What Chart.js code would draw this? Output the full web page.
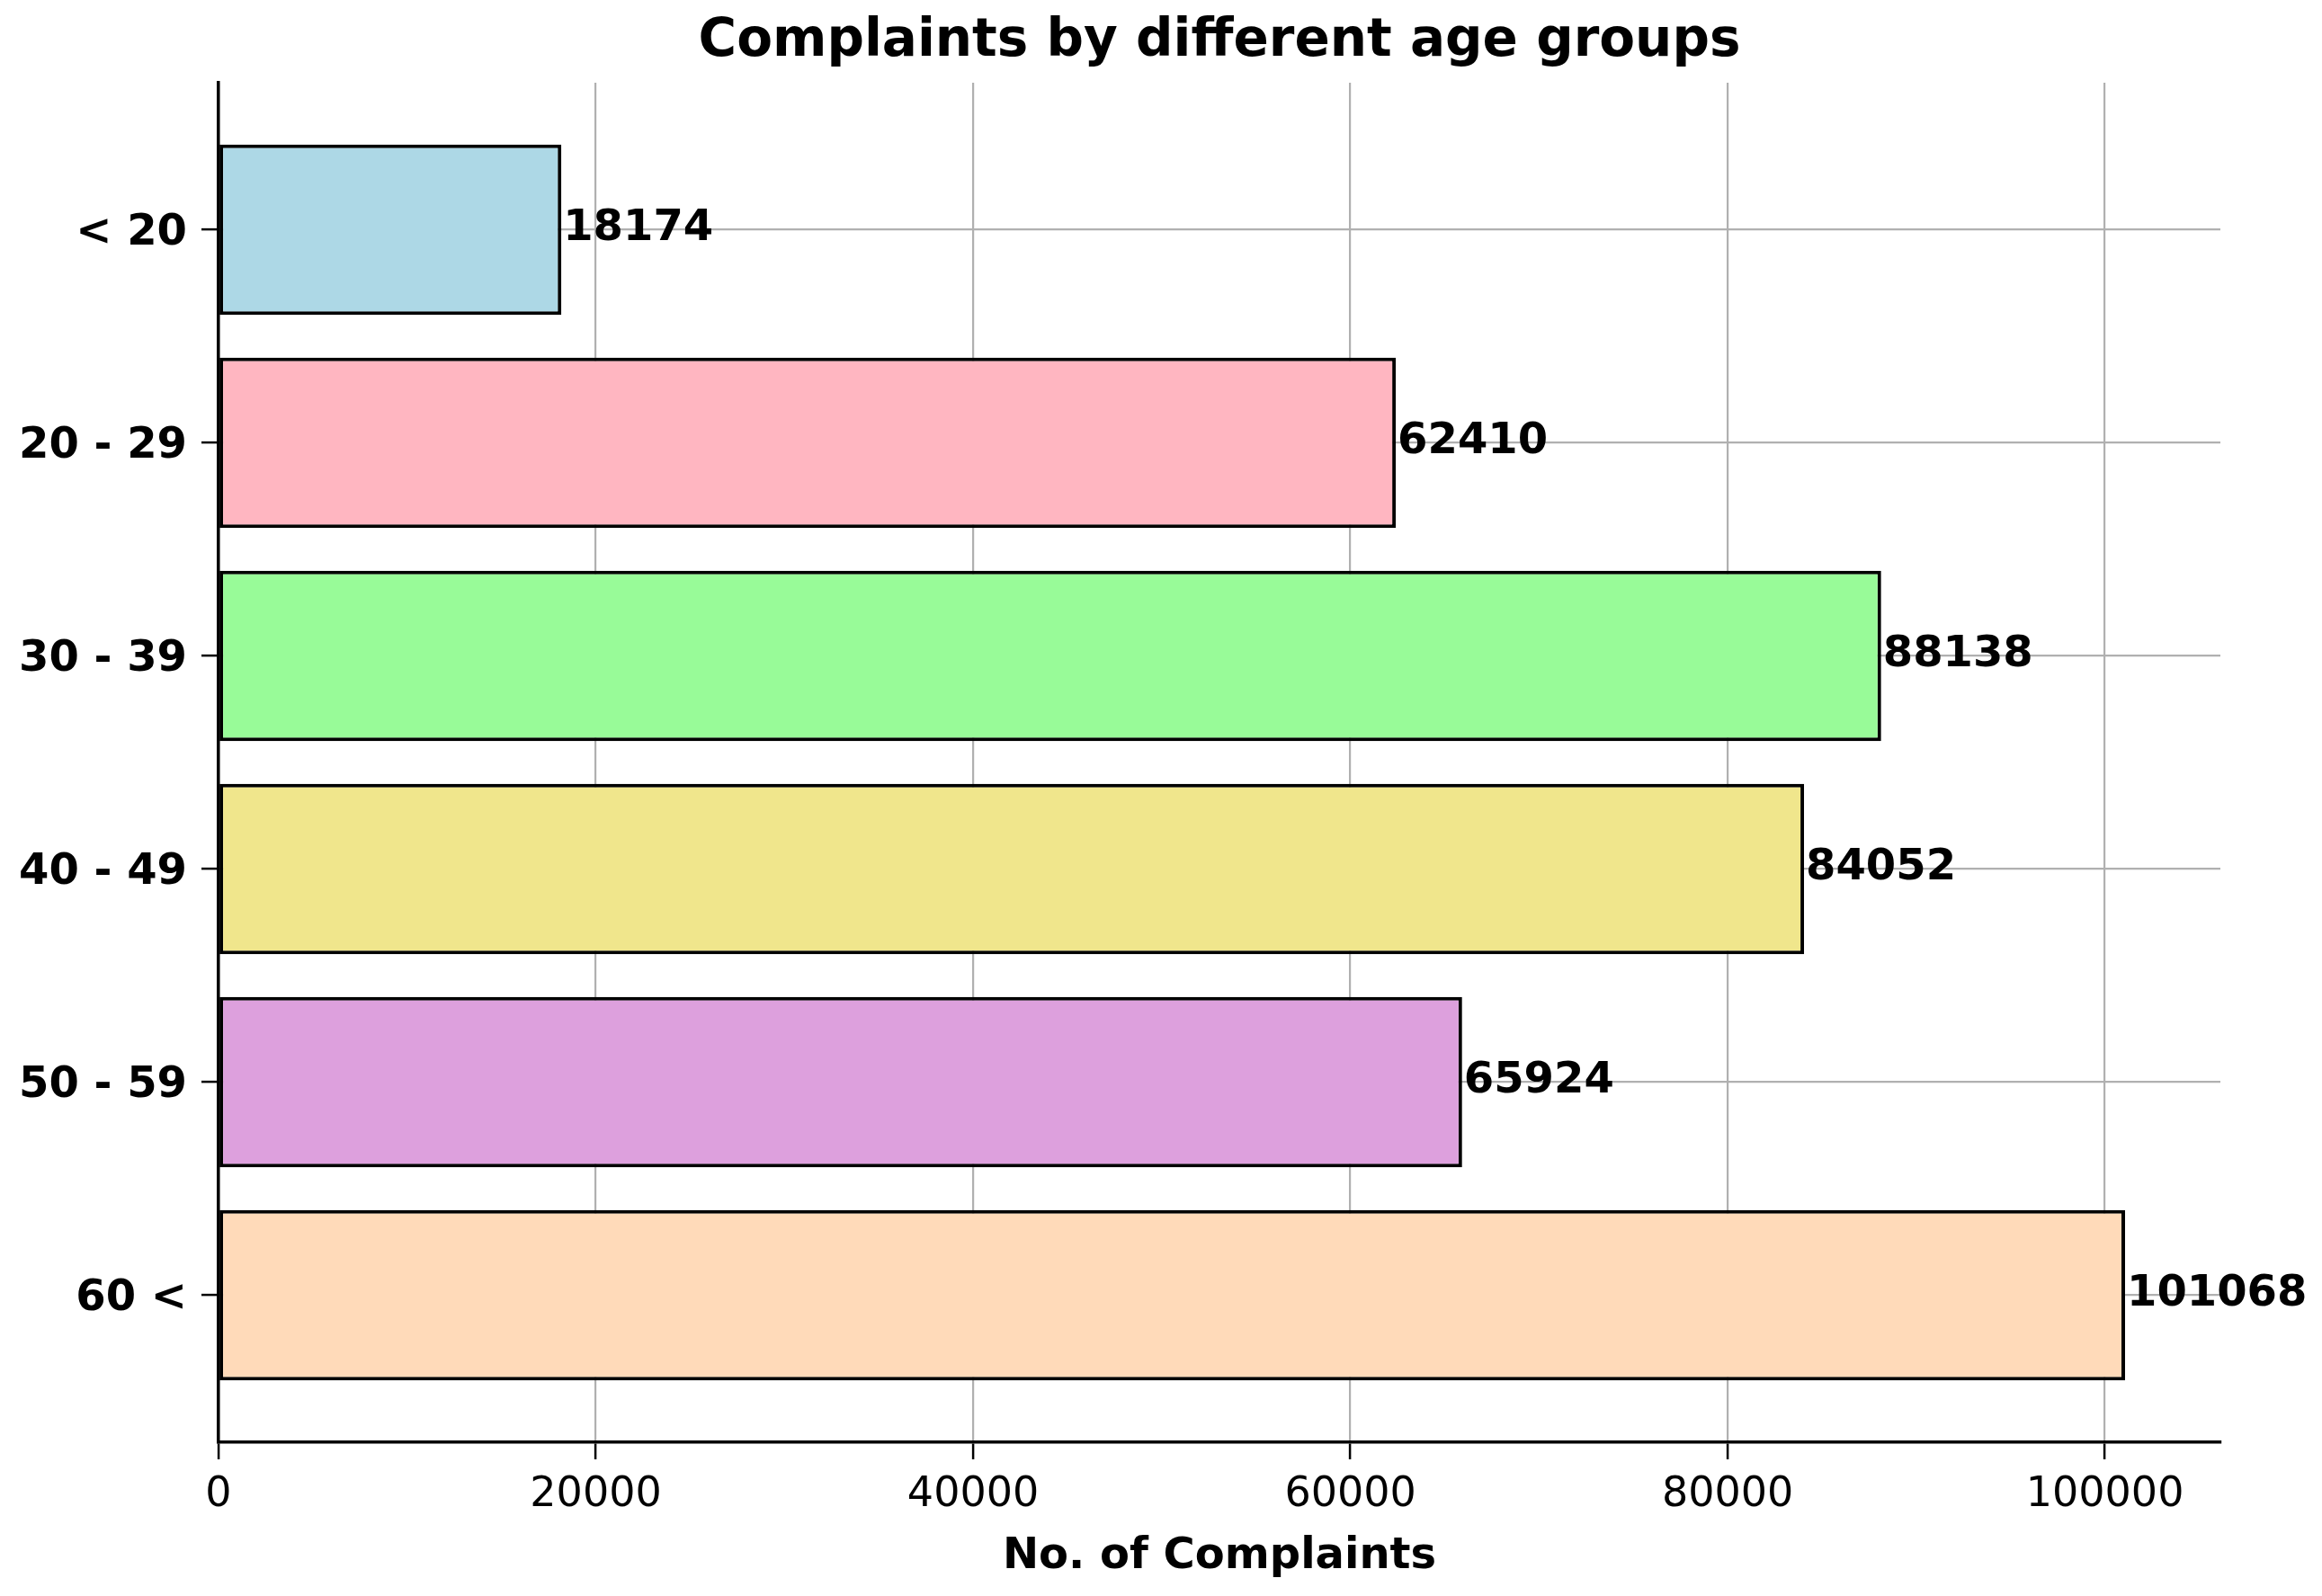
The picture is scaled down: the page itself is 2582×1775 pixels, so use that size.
<!DOCTYPE html>
<html>
<head>
<meta charset="utf-8">
<script src="https://cdn.jsdelivr.net/npm/chart.js@4.4.1/dist/chart.umd.min.js"></script>
<style>
  html, body { margin: 0; padding: 0; background: #ffffff; }
  #wrap { width: 2582px; height: 1775px; }
</style>
</head>
<body>
<div id="wrap"><canvas id="c" width="2582" height="1775"></canvas></div>
<script>
const chartTitle = 'Complaints by different age groups';
const xAxisTitle = 'No. of Complaints';
const categories = ['< 20', '20 - 29', '30 - 39', '40 - 49', '50 - 59', '60 <'];
const complaints = [18174, 62410, 88138, 84052, 65924, 101068];
const barColors = ['#ADD8E6', '#FFB6C1', '#98FB98', '#F0E68C', '#DDA0DD', '#FFDAB9'];
const xTicks = [0, 20000, 40000, 60000, 80000, 100000];

const FONT = "'DejaVu Sans', 'Liberation Sans', sans-serif";
const xMax = Math.max(...complaints) * 1.05;
const yMin = -0.4 - 0.05 * (categories.length - 1 + 0.8);
const yMax = categories.length - 1 + 0.4 + 0.05 * (categories.length - 1 + 0.8);

const textPlugin = {
  id: 'textPlugin',
  afterDraw(chart) {
    const ctx = chart.ctx;
    const area = chart.chartArea;
    const meta = chart.getDatasetMeta(0);
    ctx.save();
    ctx.fillStyle = '#000000';
    // chart title, centred over the plot area
    ctx.font = 'bold 58px ' + FONT;
    ctx.textAlign = 'center';
    ctx.textBaseline = 'middle';
    ctx.fillText(chartTitle, (area.left + area.right) / 2, 47);
    // value labels at the bar ends
    ctx.font = 'bold 48px ' + FONT;
    ctx.textAlign = 'left';
    ctx.textBaseline = 'middle';
    meta.data.forEach((bar, i) => {
      ctx.fillText(String(complaints[i]), bar.x + 2, bar.y - 1);
    });
    ctx.restore();
  }
};

new Chart(document.getElementById('c'), {
  type: 'bar',
  data: {
    datasets: [{
      data: complaints.map((v, i) => ({ x: v, y: i })),
      backgroundColor: barColors,
      borderColor: '#000000',
      borderWidth: 4,
      borderSkipped: false,
      barPercentage: 0.8,
      categoryPercentage: 1.0
    }]
  },
  options: {
    indexAxis: 'y',
    responsive: false,
    animation: false,
    devicePixelRatio: 1,
    layout: { padding: { top: 92, left: 0, right: 113, bottom: 0 } },
    plugins: {
      legend: { display: false },
      tooltip: { enabled: false },
      title: { display: false }
    },
    scales: {
      x: {
        type: 'linear',
        position: 'bottom',
        min: 0,
        max: xMax,
        z: 1,
        afterBuildTicks(scale) { scale.ticks = xTicks.map(v => ({ value: v })); },
        afterFit(scale) { scale.height = 171; },
        grid: {
          color: '#b0b0b0',
          lineWidth: 2.2,
          drawTicks: true,
          tickLength: 19,
          tickColor: '#000000',
          tickWidth: 2.5
        },
        border: { display: true, color: '#000000', width: 3.5 },
        ticks: {
          color: '#000000',
          font: { family: FONT, size: 46 },
          padding: 12,
          maxRotation: 0,
          callback: (v) => String(v)
        },
        title: {
          display: true,
          text: xAxisTitle,
          color: '#000000',
          font: { family: FONT, size: 48, weight: 'bold', lineHeight: 1.2 },
          padding: { top: 0, bottom: 15 }
        }
      },
      y: {
        type: 'linear',
        position: 'left',
        reverse: true,
        min: yMin,
        max: yMax,
        offset: false,
        z: 1,
        afterBuildTicks(scale) { scale.ticks = categories.map((_, i) => ({ value: i })); },
        afterFit(scale) { scale.width = 243; },
        grid: {
          offset: false,
          color: '#b0b0b0',
          lineWidth: 2.2,
          drawTicks: true,
          tickLength: 19,
          tickColor: '#000000',
          tickWidth: 2.5
        },
        border: { display: true, color: '#000000', width: 3.5 },
        ticks: {
          color: '#000000',
          font: { family: FONT, size: 48, weight: 'bold' },
          padding: 16,
          labelOffset: 4,
          callback: (v) => categories[v] !== undefined ? categories[v] : ''
        }
      }
    }
  },
  plugins: [textPlugin]
});
</script>
</body>
</html>
